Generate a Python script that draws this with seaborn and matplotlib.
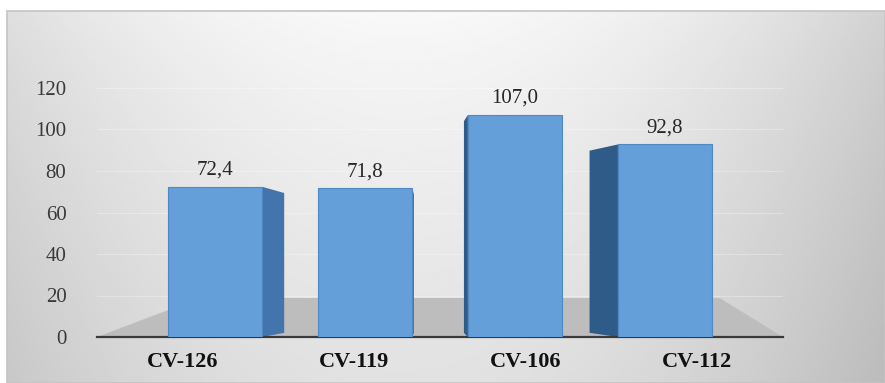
import numpy as np
import pandas as pd
import matplotlib
matplotlib.use("Agg")
import matplotlib.pyplot as plt
from matplotlib.patches import Polygon, Rectangle
import seaborn as sns

# data
cultivars = ["CV-126", "CV-119", "CV-106", "CV-112"]
values = [72.4, 71.8, 107.0, 92.8]
yticks = [0, 20, 40, 60, 80, 100, 120]

df = pd.DataFrame({"cv": cultivars, "val": values})

sns.set_theme(style="white")
plt.rcParams['font.family'] = ['Liberation Serif', 'DejaVu Serif']

W, H = 885, 383
fig = plt.figure(figsize=(W / 100, H / 100), dpi=100)
fig.patch.set_facecolor("white")

# grey gradient panel behind the chart
bg = fig.add_axes([7 / W, 0, 1 - 7 / W, 1 - 11 / H], zorder=0)
xx, yy = np.meshgrid(np.linspace(0, 1, 300), np.linspace(0, 1, 150))
shade = 0.975 - 0.15 * ((xx - 0.45) / 0.55) ** 2 - 0.09 * yy ** 0.8
bg.imshow(shade, cmap="gray", vmin=0, vmax=1, aspect="auto",
          extent=[0, 1, 0, 1], origin="upper")
bg.set_axis_off()
fig.add_artist(Rectangle((7 / W, 0), 1 - 7 / W, 1 - 11 / H,
                         transform=fig.transFigure, fill=False,
                         edgecolor="#c4c4c4", lw=1.2, zorder=1))

ax = fig.add_axes([97 / W, (H - 337) / H, (783 - 97) / W, (337 - 88) / H], zorder=2)
ax.set_facecolor("none")

# perspective floor
ax.add_patch(Polygon([(-0.5, 0), (3.5, 0), (3.13, 18.8), (0.1, 18.8)],
                     closed=True, facecolor="#bdbdbd", edgecolor="none", zorder=1))

sns.barplot(data=df, x="cv", y="val", color="#649fda", width=0.55,
            edgecolor="#5088c2", linewidth=0.8, saturation=1, ax=ax, zorder=3)

# perspective: pull bars toward the centre and add a side face
px = 171.5
for bar in ax.containers[0]:
    cpx = 97 + (bar.get_x() + bar.get_width() / 2 + 0.5) * px
    bar.set_x(bar.get_x() + (440 - cpx) * 0.125 / px)
    x0, x1 = bar.get_x(), bar.get_x() + bar.get_width()
    h = bar.get_height()
    s = 424 - cpx
    d = 3.8e-4 * s * abs(s) / px
    if d < 0:
        edge, col = x0, "#2f5b88"
    else:
        edge, col = x1, "#4374ab"
    if abs(d) > 0.005:
        ax.add_patch(Polygon([(edge, 0), (edge + d, 2.0), (edge + d, h - 3), (edge, h)],
                             closed=True, facecolor=col, edgecolor="none", zorder=2.5))

ax.bar_label(ax.containers[0], labels=[f"{v:.1f}".replace(".", ",") for v in values],
             padding=5, fontsize=15, color="#262626")

ax.set_ylim(0, 120)
ax.set_xlim(-0.5, 3.5)
ax.set_yticks(yticks)
ax.yaxis.grid(True, color="white", lw=0.8, alpha=0.3)
ax.set_axisbelow(True)
ax.set_xlabel("")
ax.set_ylabel("")
for s in ["left", "right", "top"]:
    ax.spines[s].set_visible(False)
ax.spines["bottom"].set_color("#3a3a3a")
ax.spines["bottom"].set_linewidth(1.6)
ax.tick_params(axis="y", length=0, pad=22, labelsize=15, labelcolor="#3a3a3a")
ax.tick_params(axis="x", length=0, pad=11, labelsize=16)
for t in ax.get_xticklabels():
    t.set_fontweight("bold")
    t.set_color("#111111")

fig.savefig("out.png", dpi=100)
